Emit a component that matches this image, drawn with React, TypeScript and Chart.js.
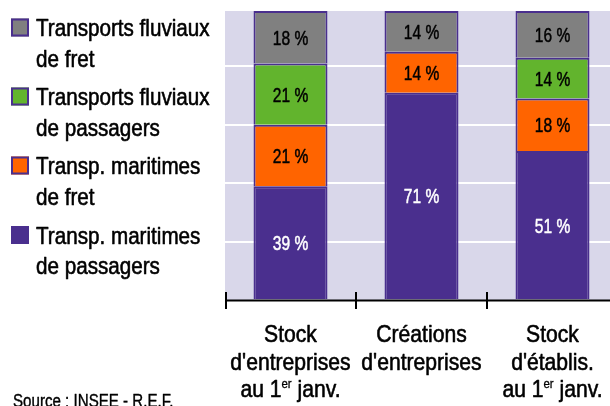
import React, { useEffect, useRef } from "react";
import { Chart, registerables } from "chart.js";

Chart.register(...registerables);

// ---- data ----
const categoryLines: string[][] = [
  ["Stock", "d'entreprises", "au 1^er janv."],
  ["Créations", "d'entreprises"],
  ["Stock", "d'établis.", "au 1^er janv."],
];
const maritimesPassagers: (number | null)[] = [39, 71, 51];
const maritimesFret: (number | null)[] = [21, 14, 18];
const fluviauxPassagers: (number | null)[] = [21, null, 14];
const fluviauxFret: (number | null)[] = [18, 14, 16];

const legendLines: string[][] = [
  ["Transports fluviaux", "de fret"],
  ["Transports fluviaux", "de passagers"],
  ["Transp. maritimes", "de fret"],
  ["Transp. maritimes", "de passagers"],
];
const sourceText = "Source : INSEE - R.E.F.";

// ---- styles ----
const PURPLE = "#4a2f8e";
const ORANGE = "#ff6400";
const GREEN = "#62b42d";
const GRAY = "#808080";
const BG = "#d9d7ea";
const FONT = '"Liberation Sans", Arial, sans-serif';

const legendColors = [GRAY, GREEN, ORANGE, PURPLE];
const labelColors = ["#fff", "#000", "#000", "#000"]; // per dataset index (purple, orange, green, gray)

function fillScaled(
  ctx: CanvasRenderingContext2D,
  text: string,
  x: number,
  y: number,
  sx: number,
  align: CanvasTextAlign,
  weight = 0.6
) {
  ctx.save();
  ctx.translate(x, y);
  ctx.scale(sx, 1);
  ctx.textAlign = align;
  ctx.fillText(text, 0, 0);
  if (weight > 0) {
    ctx.strokeStyle = ctx.fillStyle;
    ctx.lineWidth = weight;
    ctx.lineJoin = "round";
    ctx.strokeText(text, 0, 0);
  }
  ctx.restore();
}

function drawRich(ctx: CanvasRenderingContext2D, text: string, cx: number, y: number, size: number, sx: number) {
  const parts: { t: string; sup: boolean }[] = [];
  const re = /\^(\w+)/g;
  let last = 0;
  let m: RegExpExecArray | null;
  while ((m = re.exec(text))) {
    if (m.index > last) parts.push({ t: text.slice(last, m.index), sup: false });
    parts.push({ t: m[1], sup: true });
    last = m.index + m[0].length;
  }
  if (last < text.length) parts.push({ t: text.slice(last), sup: false });
  const supSize = Math.round(size * 0.55);
  let total = 0;
  const widths = parts.map((p) => {
    ctx.font = `${p.sup ? supSize : size}px ${FONT}`;
    const w = ctx.measureText(p.t).width * sx;
    total += w;
    return w;
  });
  let x = cx - total / 2;
  parts.forEach((p, i) => {
    ctx.font = `${p.sup ? supSize : size}px ${FONT}`;
    fillScaled(ctx, p.t, x, p.sup ? y - size * 0.36 : y, sx, "left", p.sup ? 0.3 : 0.6);
    x += widths[i];
  });
}

const bgPlugin = {
  id: "bgArea",
  beforeDraw(chart: any) {
    const { ctx, chartArea: a } = chart;
    ctx.save();
    ctx.fillStyle = BG;
    ctx.fillRect(a.left, a.top, a.right - a.left, a.bottom - a.top);
    ctx.restore();
  },
};

const valueLabels = {
  id: "valueLabels",
  afterDatasetsDraw(chart: any) {
    const { ctx } = chart;
    ctx.save();
    ctx.font = `21px ${FONT}`;
    ctx.textBaseline = "alphabetic";
    chart.data.datasets.forEach((ds: any, di: number) => {
      const meta = chart.getDatasetMeta(di);
      meta.data.forEach((el: any, i: number) => {
        const v = ds.data[i];
        if (v == null) return;
        const cy = (el.y + el.base) / 2;
        ctx.fillStyle = labelColors[di];
        fillScaled(ctx, `${v} %`, el.x, cy + 7.5, 0.74, "center", 0.5);
      });
    });
    ctx.restore();
  },
};

const decorations = {
  id: "decorations",
  afterDraw(chart: any) {
    const { ctx, chartArea: a } = chart;
    const xs = chart.scales.x;
    const step = xs.getPixelForValue(1) - xs.getPixelForValue(0);
    ctx.save();
    // axis line
    ctx.strokeStyle = "#000";
    ctx.lineWidth = 2;
    ctx.beginPath();
    ctx.moveTo(a.left, a.bottom + 0.5);
    ctx.lineTo(a.right, a.bottom + 0.5);
    ctx.stroke();
    // ticks at category boundaries
    for (let i = 0; i <= categoryLines.length; i++) {
      const x = Math.round(xs.getPixelForValue(i) - step / 2) + (i === 0 ? 1 : 0);
      ctx.beginPath();
      ctx.moveTo(x, a.bottom - 8);
      ctx.lineTo(x, a.bottom + 9);
      ctx.stroke();
    }
    // category labels
    ctx.fillStyle = "#000";
    ctx.textBaseline = "alphabetic";
    categoryLines.forEach((lines, i) => {
      const cx = xs.getPixelForValue(i);
      lines.forEach((ln, j) => {
        drawRich(ctx, ln, cx, a.bottom + 42 + j * 27.5, 24, 0.88);
      });
    });
    // legend
    const baselines = [36, 105, 174, 243.5];
    legendLines.forEach((lines, k) => {
      const b = baselines[k];
      ctx.fillStyle = legendColors[k];
      ctx.fillRect(11, b - 17.5, 18, 18);
      ctx.strokeStyle = PURPLE;
      ctx.lineWidth = 2;
      ctx.strokeRect(12, b - 16.5, 16, 16);
      ctx.fillStyle = "#000";
      ctx.font = `24px ${FONT}`;
      lines.forEach((ln, j) => fillScaled(ctx, ln, 36, b + j * 30.5, 0.86, "left"));
    });
    // source
    ctx.fillStyle = "#000";
    ctx.font = `18px ${FONT}`;
    fillScaled(ctx, sourceText, 13, 406.5, 0.84, "left", 0.4);
    ctx.restore();
  },
};

export default function App() {
  const ref = useRef<HTMLCanvasElement>(null);
  useEffect(() => {
    if (!ref.current) return;
    const mk = (label: string, data: (number | null)[], color: string) => ({
      label,
      data,
      backgroundColor: color,
      borderColor: PURPLE,
      borderWidth: 2,
      categoryPercentage: 0.565,
      barPercentage: 1,
    });
    const chart = new Chart(ref.current, {
      type: "bar",
      data: {
        labels: categoryLines.map((l) => l.join(" ")),
        datasets: [
          mk(legendLines[3].join(" "), maritimesPassagers, PURPLE),
          mk(legendLines[2].join(" "), maritimesFret, ORANGE),
          mk(legendLines[1].join(" "), fluviauxPassagers, GREEN),
          mk(legendLines[0].join(" "), fluviauxFret, GRAY),
        ],
      },
      options: {
        animation: false,
        responsive: true,
        maintainAspectRatio: false,
        layout: { padding: { left: 225, top: 11, right: 0, bottom: 106 } },
        plugins: { legend: { display: false }, tooltip: { enabled: false } },
        scales: {
          x: {
            stacked: true,
            display: true,
            ticks: { display: false },
            grid: { display: false, drawTicks: false },
            border: { display: false },
          },
          y: {
            stacked: true,
            min: 0,
            max: 99,
            ticks: { display: false, stepSize: 20 },
            grid: {
              drawTicks: false,
              lineWidth: 2,
              color: (c: any) =>
                c.tick && (c.tick.value === 0 || c.tick.value === 99) ? "rgba(0,0,0,0)" : "#ffffff",
            },
            border: { display: false },
          },
        },
      },
      plugins: [bgPlugin, valueLabels, decorations],
    });
    return () => chart.destroy();
  }, []);
  return (
    <div
      style={{
        position: "fixed",
        left: 0,
        top: 0,
        width: 610,
        height: 406,
        overflow: "hidden",
        background: "#fff",
      }}
    >
      <div style={{ position: "relative", width: 618, height: 406 }}>
        <canvas ref={ref} />
      </div>
    </div>
  );
}
